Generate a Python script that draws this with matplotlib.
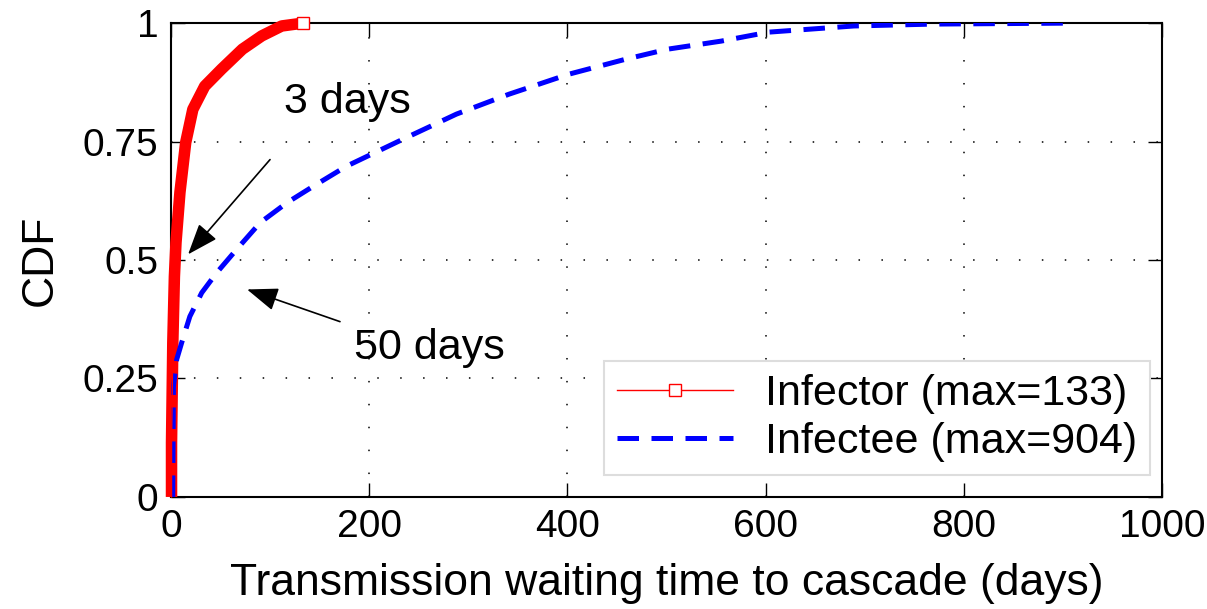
import numpy as np
import matplotlib
matplotlib.use("Agg")
import matplotlib.pyplot as plt

# values
infector_days = [0.5, 0.5, 1.8, 3.4, 5.0, 9.0, 14.8, 22.0, 34.0, 51.0, 72.0, 91.5, 111.7, 133.0]
infector_cdf = [0.0, 0.114, 0.326, 0.465, 0.537, 0.643, 0.748, 0.818, 0.867, 0.903, 0.945, 0.973, 0.994, 1.0]

infectee_days = [1.7, 2.4, 5.7, 10.8, 19.0, 31.0, 46.0, 66.0, 90.0, 117.0, 143.0, 177.0,
                 234.0, 288.0, 341.0, 401.0, 459.0, 501.0, 555.0, 603.0, 689.0, 769.0, 904.0]
infectee_cdf = [0.0, 0.233, 0.29, 0.326, 0.381, 0.431, 0.473, 0.522, 0.579, 0.621, 0.655, 0.698,
                0.755, 0.808, 0.85, 0.892, 0.924, 0.945, 0.962, 0.981, 0.994, 0.998, 1.0]

x_ticks = [0, 200, 400, 600, 800, 1000]
y_ticks = [0, 0.25, 0.5, 0.75, 1]
y_tick_labels = ["0", "0.25", "0.5", "0.75", "1"]

plt.rcParams['font.family'] = ['Liberation Sans', 'DejaVu Sans']
plt.rcParams['font.size'] = 31

fig = plt.figure(figsize=(12.07, 6.09), dpi=100)
ax = fig.add_axes([0.1417, 0.184, 0.821, 0.778])

# dense marker band of the infector curve
ax.plot(infector_days, infector_cdf, color='red', lw=8.3, solid_joinstyle='round',
        solid_capstyle='butt', clip_on=False, zorder=3)
ax.plot(infector_days, infector_cdf, color='red', lw=1, marker='s', ms=8,
        mfc='white', mec='red', mew=1, markevery=[len(infector_days) - 1],
        clip_on=False, zorder=4, label='Infector (max=133)')

ax.plot(infectee_days, infectee_cdf, color='blue', lw=3.6, dashes=(4.3, 2.5),
        zorder=3, label='Infectee (max=904)')

ax.set_xlim(0, 1000)
ax.set_ylim(0, 1)
ax.set_xticks(x_ticks)
ax.set_yticks(y_ticks)
ax.set_yticklabels(y_tick_labels)
ax.tick_params(direction='in', length=10, width=1, top=True, right=True, pad=9,
               labelsize=28)
ax.grid(True, color='black', linestyle=(0, (1, 14)), lw=1.1)
for sp in ax.spines.values():
    sp.set_linewidth(1.5)

ax.set_xlabel('Transmission waiting time to cascade (days)', fontsize=32, labelpad=13)
ax.set_ylabel('CDF', fontsize=32, labelpad=16)

arrow = dict(arrowstyle='-|>,head_length=0.8,head_width=0.3', color='black', lw=1.2,
             shrinkA=0, shrinkB=0, mutation_scale=24)
ax.annotate('', xy=(17.2, 0.512), xytext=(99.9, 0.712), arrowprops=arrow)
ax.text(177.6, 0.833, '3 days', ha='center', va='center')
ax.annotate('', xy=(76.7, 0.438), xytext=(170.5, 0.37), arrowprops=arrow)
ax.text(261, 0.315, '50 days', ha='center', va='center')

leg = ax.legend(loc='lower right', bbox_to_anchor=(0.988, 0.046), numpoints=1,
                handlelength=2.7, handletextpad=0.75, borderpad=0.3,
                borderaxespad=0, labelspacing=0.2, fancybox=False, framealpha=1,
                edgecolor='#dddddd')
leg.get_frame().set_linewidth(1.5)

fig.savefig('out.png', dpi=100)
